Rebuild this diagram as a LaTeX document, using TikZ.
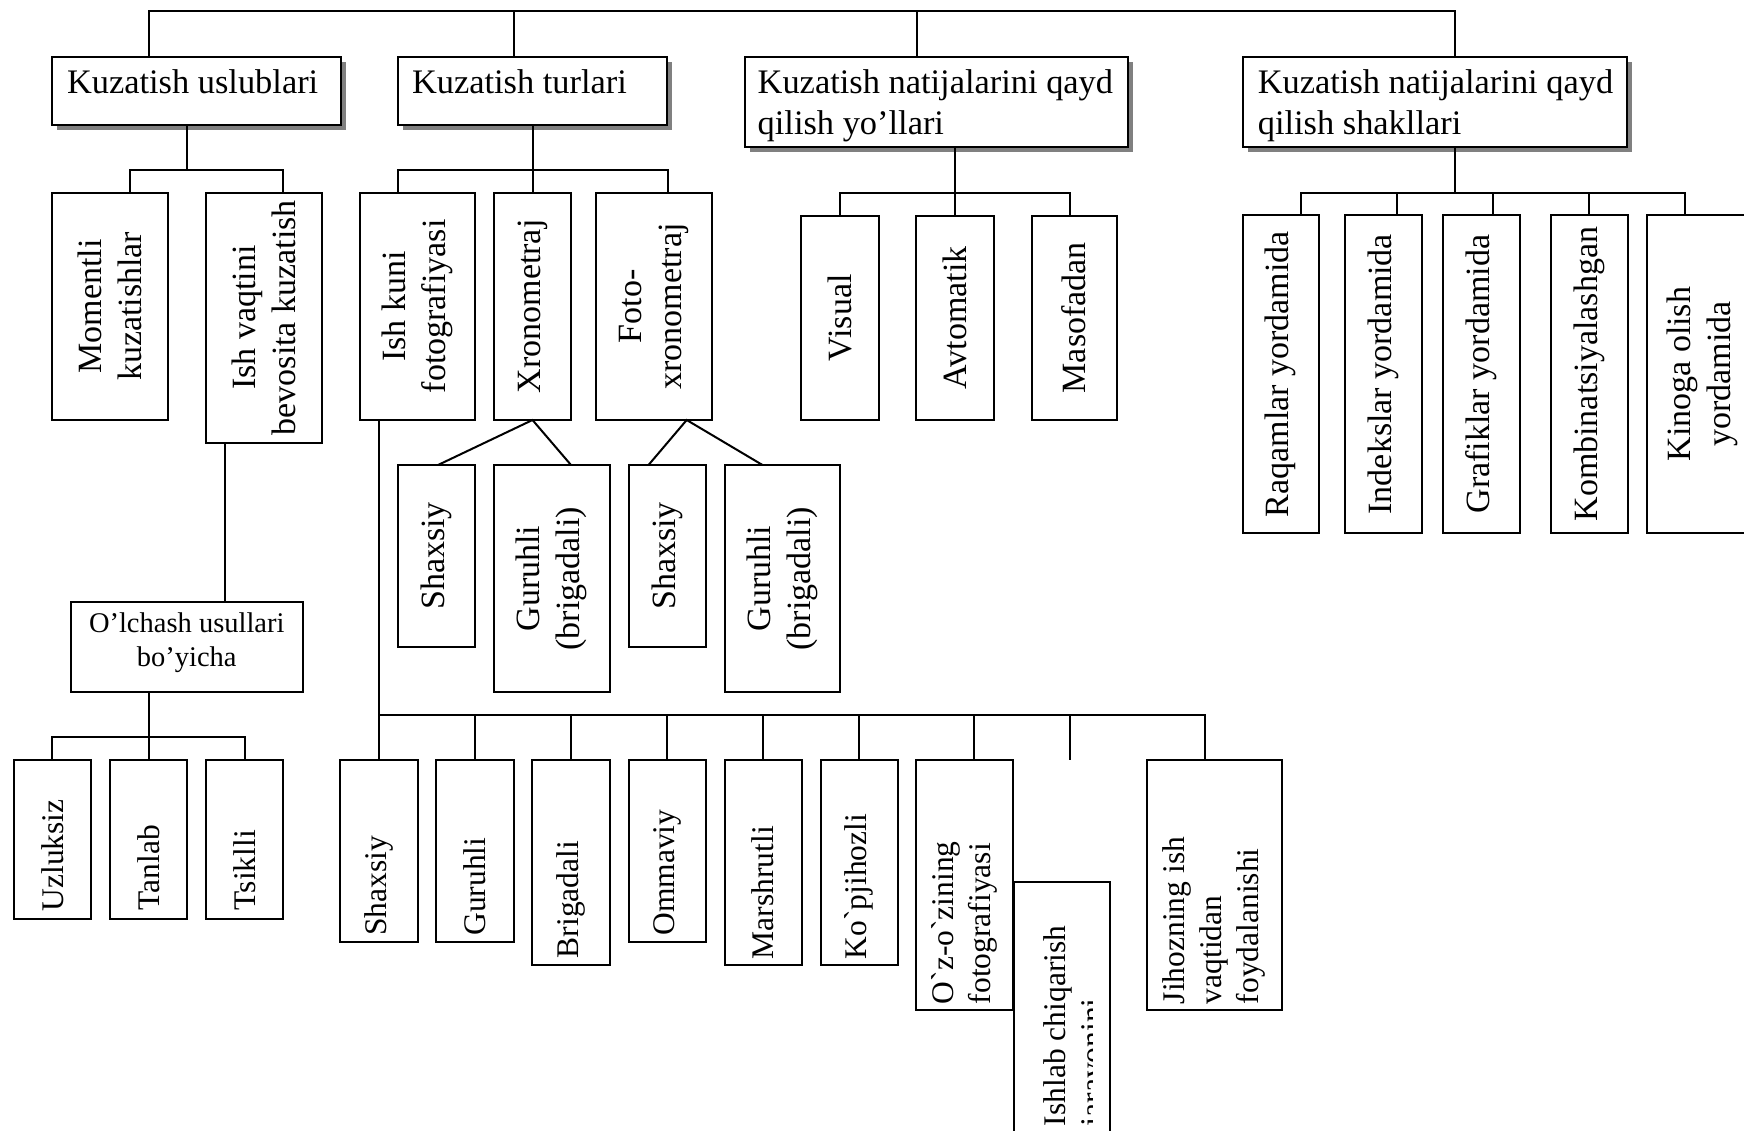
\documentclass[tikz,border=0pt]{standalone}
\usepackage{fontspec}
\setmainfont{Liberation Serif}[Ligatures=TeXOff]
\usetikzlibrary{shadows}
\tikzset{
  box/.style={draw, fill=white, inner sep=0pt, outer sep=0pt, anchor=north west},
  headbox/.style={box, drop shadow={shadow xshift=5pt, shadow yshift=-5pt, fill=black!50, opacity=1}},
  headtext/.style={font=\fontsize{34.4}{41.5}\selectfont, inner sep=0pt, anchor=north west, align=left},
  midtext/.style={font=\fontsize{34}{40}\selectfont, rotate=90, inner sep=0pt, align=center},
  lowtext/.style={font=\fontsize{31.5}{37}\selectfont, rotate=90, inner sep=0pt, align=left, anchor=west},
}
\begin{document}
\begin{tikzpicture}[x=1pt, y=-1pt, line width=2pt]
\clip (0,0) rectangle (1744,1130);
\fill[white] (0,0) rectangle (1744,1130);

% ---- heading boxes
\node[headbox, minimum width=289pt, minimum height=68.5pt] (K1) at (52,56.5) {};
\node[headbox, minimum width=269pt, minimum height=68.5pt] (K2) at (398,56.5) {};
\node[headbox, minimum width=383.5pt, minimum height=90.5pt] (K3) at (744.5,56.5) {};
\node[headbox, minimum width=384pt, minimum height=90.5pt] (K4) at (1243,56.5) {};
\node[headtext] (K1t) at ([xshift=14pt,yshift=-12pt]K1.north west) {Kuzatish uslublari};
\node[headtext] (K2t) at ([xshift=13pt,yshift=-12pt]K2.north west) {Kuzatish turlari};
\node[headtext] (K3t) at ([xshift=12.2pt,yshift=-12pt]K3.north west) {Kuzatish natijalarini qayd\\qilish yo’llari};
\node[headtext] (K4t) at ([xshift=13.8pt,yshift=-12pt]K4.north west) {Kuzatish natijalarini qayd\\qilish shakllari};

% ---- second level
\node[box, minimum width=116pt, minimum height=227.3pt] (mom) at (52,192.7) {};
\node[box, minimum width=116pt, minimum height=250pt] (ishv) at (206,192.7) {};
\node[box, minimum width=115pt, minimum height=227.3pt] (ishk) at (360,192.7) {};
\node[box, minimum width=77pt, minimum height=227.3pt] (xron) at (494,192.7) {};
\node[box, minimum width=115.5pt, minimum height=227.3pt] (foto) at (596,192.7) {};
\node[box, minimum width=78pt, minimum height=204.5pt] (vis) at (801,215.5) {};
\node[box, minimum width=77.5pt, minimum height=204.5pt] (avt) at (916,215.5) {};
\node[box, minimum width=85pt, minimum height=204.5pt] (mas) at (1031.5,215.5) {};
\node[box, minimum width=76.3pt, minimum height=318.3pt] (raq) at (1242.7,215) {};
\node[box, minimum width=77.3pt, minimum height=318.3pt] (ind) at (1344.7,215) {};
\node[box, minimum width=76.6pt, minimum height=318.3pt] (gra) at (1443,215) {};
\node[box, minimum width=77pt, minimum height=318.3pt] (kom) at (1550.5,215) {};
\node[box, minimum width=111.4pt, minimum height=318.3pt] (kin) at (1646.6,215) {};

\node[midtext] (momt) at (mom.center) {Momentli\\kuzatishlar};
\node[midtext] (ishvt) at (ishv.center) {Ish vaqtini\\bevosita kuzatish};
\node[midtext] (ishkt) at (ishk.center) {Ish kuni\\fotografiyasi};
\node[midtext] (xront) at (xron.center) {Xronometraj};
\node[midtext] (fotot) at (foto.center) {Foto-\\xronometraj};
\node[midtext] (vist) at (vis.center) {Visual};
\node[midtext] (avtt) at (avt.center) {Avtomatik};
\node[midtext] (mast) at (mas.center) {Masofadan};
\node[midtext] (raqt) at (raq.center) {Raqamlar yordamida};
\node[midtext] (indt) at (ind.center) {Indekslar yordamida};
\node[midtext] (grat) at (gra.center) {Grafiklar yordamida};
\node[midtext] (komt) at (kom.center) {Kombinatsiyalashgan};
\node[midtext] (kint) at (kin.center) {Kinoga olish\\yordamida};

% ---- third level
\node[box, minimum width=77.3pt, minimum height=181.7pt] (sh1) at (398,465) {};
\node[box, minimum width=116pt, minimum height=227.3pt] (gu1) at (493.7,465) {};
\node[box, minimum width=77pt, minimum height=181.7pt] (sh2) at (628.6,465) {};
\node[box, minimum width=115.3pt, minimum height=227.3pt] (gu2) at (724.5,465) {};
\node[midtext] (sh1t) at (sh1.center) {Shaxsiy};
\node[midtext] (gu1t) at (gu1.center) {Guruhli\\(brigadali)};
\node[midtext] (sh2t) at (sh2.center) {Shaxsiy};
\node[midtext] (gu2t) at (gu2.center) {Guruhli\\(brigadali)};

\node[box, minimum width=231.5pt, minimum height=90.6pt] (olc) at (71,601.7) {};
\node[font=\fontsize{28.5}{33.3}\selectfont, inner sep=0pt, align=center, anchor=north] (olct) at ([yshift=-10.5pt]olc.north) {O’lchash usullari\\bo’yicha};

\node[box, minimum width=76.3pt, minimum height=159.3pt] (uzl) at (14.4,760) {};
\node[box, minimum width=77.5pt, minimum height=159.3pt] (tan) at (109.6,760) {};
\node[box, minimum width=77.5pt, minimum height=159.3pt] (tsi) at (205.5,760) {};
\node[lowtext] (uzlt) at ([yshift=7pt]uzl.south) {Uzluksiz};
\node[lowtext] (tant) at ([yshift=8pt]tan.south) {Tanlab};
\node[lowtext] (tsit) at ([yshift=8pt]tsi.south) {Tsiklli};

% ---- lower row
\node[box, minimum width=77.3pt, minimum height=181.7pt] (bS) at (340.3,760) {};
\node[box, minimum width=77.3pt, minimum height=181.7pt] (bG) at (436.4,760) {};
\node[box, minimum width=77.4pt, minimum height=205pt] (bB) at (532.4,760) {};
\node[box, minimum width=77pt, minimum height=181.7pt] (bO) at (628.5,760) {};
\node[box, minimum width=77pt, minimum height=205pt] (bM) at (724.6,760) {};
\node[box, minimum width=77pt, minimum height=205pt] (bK) at (820.6,760) {};
\node[box, minimum width=96.4pt, minimum height=250pt] (bZ) at (916.3,760) {};
\node[box, minimum width=95.7pt, minimum height=250.3pt] (bI) at (1014.3,881.7) {};
\node[box, minimum width=135pt, minimum height=250pt] (bJ) at (1146.7,760) {};

\node[lowtext] (bSt) at ([yshift=5pt]bS.south) {Shaxsiy};
\node[lowtext] (bGt) at ([yshift=5pt]bG.south) {Guruhli};
\node[lowtext] (bBt) at ([yshift=6pt]bB.south) {Brigadali};
\node[lowtext] (bOt) at ([yshift=5pt]bO.south) {Ommaviy};
\node[lowtext] (bMt) at ([yshift=5pt]bM.south) {Marshrutli};
\node[lowtext] (bKt) at ([yshift=5pt]bK.south) {Ko`pjihozli};
\node[lowtext] (bZt) at ([yshift=5pt]bZ.south) {O`z-o`zining\\fotografiyasi};
\node[lowtext] (bJt) at ([yshift=5pt]bJ.south) {Jihozning ish\\vaqtidan\\foydalanishi};
\begin{scope}
  \clip (1014,880) rectangle (1092,1140);
  \node[lowtext, anchor=north west] (bIt) at ([xshift=28.7pt,yshift=5pt]bI.south west) {Ishlab chiqarish\\jarayonini};
\end{scope}

% ---- connectors: top bus
\coordinate (ta) at (148.5,11);
\coordinate (tb) at (513.5,11);
\coordinate (tc) at (917,11);
\coordinate (td) at (1455,11);
\draw (K1.north -| ta) -- (ta) -- (td) -- (K4.north -| td);
\draw (tb) -- (K2.north -| tb);
\draw (tc) -- (K3.north -| tc);

% methods branch
\coordinate (a0) at (187,170);
\coordinate (al) at (129.5,170);
\coordinate (ar) at (283,170);
\draw (K1.south -| a0) -- (a0);
\draw (mom.north -| al) -- (al) -- (ar) -- (ishv.north -| ar);
\coordinate (v0) at (225,520);
\draw (ishv.south -| v0) -- (olc.north -| v0);
\coordinate (o0) at (148.7,737.3);
\coordinate (ol) at (52.4,737.3);
\coordinate (or) at (245,737.3);
\draw (olc.south -| o0) -- (o0) -- (tan.north -| o0);
\draw (uzl.north -| ol) -- (ol) -- (or) -- (tsi.north -| or);

% types branch
\coordinate (b0) at (532.5,170);
\coordinate (bl) at (398,170);
\coordinate (br) at (668.3,170);
\draw (K2.south -| b0) -- (b0) -- (xron.north -| b0);
\draw (ishk.north -| bl) -- (bl) -- (br) -- (foto.north -| br);
\coordinate (x1) at (438,465);
\coordinate (x2) at (571,465);
\draw (sh1.north -| x1) -- (xron.south) -- (gu1.north -| x2);
\coordinate (f0) at (686.7,420);
\coordinate (f1) at (648.5,465);
\coordinate (f2) at (762.5,465);
\draw (sh2.north -| f1) -- (foto.south -| f0) -- (gu2.north -| f2);

% lower bus
\coordinate (w0) at (378.8,714.5);
\coordinate (w1) at (1205,714.5);
\draw (ishk.south -| w0) -- (bS.north -| w0);
\draw (w0) -- (w1) -- (bJ.north -| w1);
\draw (bG.north) -- (bG.north |- w0);
\draw (bB.north) -- (bB.north |- w0);
\draw (bO.north) -- (bO.north |- w0);
\draw (bM.north) -- (bM.north |- w0);
\draw (bK.north) -- (bK.north |- w0);
\coordinate (wZ) at (974.3,714.5);
\draw (wZ) -- (bZ.north -| wZ);
\coordinate (wF) at (1070.3,714.5);
\coordinate (wFend) at (1070.3,760);
\draw (wF) -- (wFend);

% recording ways branch
\coordinate (c0) at (954.8,192.9);
\coordinate (cl) at (839.8,192.9);
\coordinate (cr) at (1070.2,192.9);
\draw (K3.south -| c0) -- (c0) -- (avt.north -| c0);
\draw (vis.north -| cl) -- (cl) -- (cr) -- (mas.north -| cr);

% recording forms branch
\coordinate (d0) at (1454.5,192.8);
\coordinate (dl) at (1300.7,192.8);
\coordinate (d2) at (1396.7,192.8);
\coordinate (d3) at (1492.5,192.8);
\coordinate (d4) at (1588.6,192.8);
\coordinate (dr) at (1685,192.8);
\draw (K4.south -| d0) -- (d0);
\draw (raq.north -| dl) -- (dl) -- (dr) -- (kin.north -| dr);
\draw (d2) -- (ind.north -| d2);
\draw (d3) -- (gra.north -| d3);
\draw (d4) -- (kom.north -| d4);
\end{tikzpicture}
\end{document}
